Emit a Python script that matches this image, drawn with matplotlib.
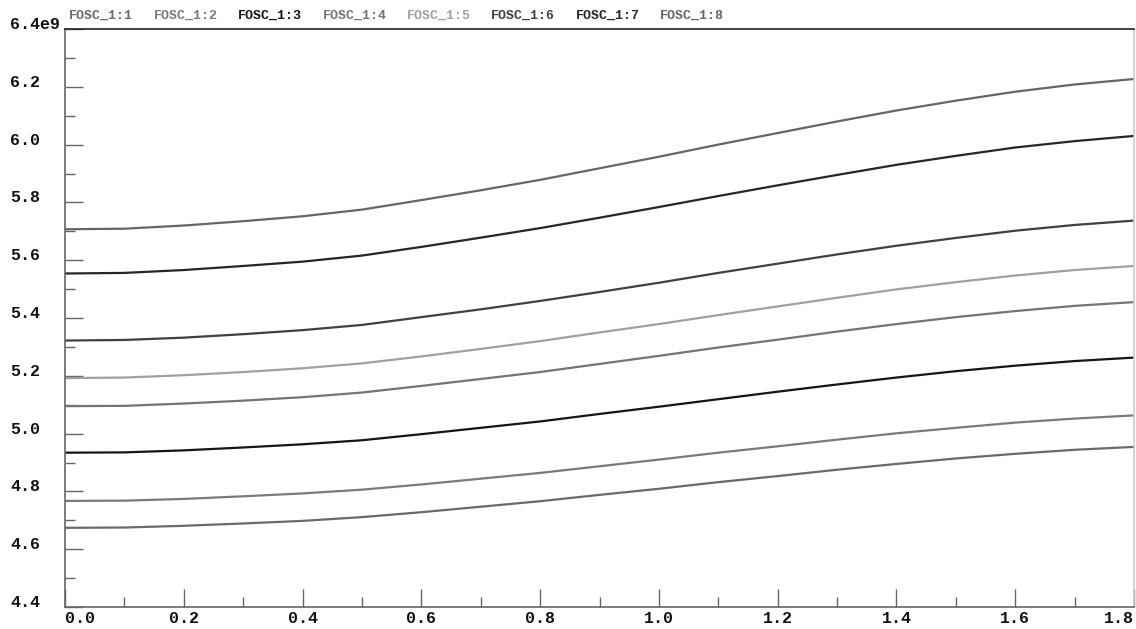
import matplotlib
matplotlib.use("Agg")
import matplotlib.pyplot as plt
from matplotlib.ticker import MultipleLocator, FuncFormatter

# x in steps of 0.1
x = [0.0, 0.1, 0.2, 0.3, 0.4, 0.5, 0.6, 0.7, 0.8, 0.9,
     1.0, 1.1, 1.2, 1.3, 1.4, 1.5, 1.6, 1.7, 1.8]

# values in units of 1e9, series FOSC_1:1 (lowest) .. FOSC_1:8 (highest)
fosc_1 = [4.674, 4.675, 4.681, 4.689, 4.698, 4.711, 4.728, 4.747, 4.766, 4.788,
          4.809, 4.832, 4.853, 4.875, 4.895, 4.914, 4.930, 4.944, 4.954]
fosc_2 = [4.767, 4.768, 4.774, 4.783, 4.793, 4.806, 4.824, 4.844, 4.864, 4.887,
          4.910, 4.934, 4.956, 4.979, 5.001, 5.020, 5.038, 5.052, 5.063]
fosc_3 = [4.934, 4.935, 4.942, 4.952, 4.963, 4.977, 4.998, 5.020, 5.042, 5.068,
          5.093, 5.119, 5.145, 5.170, 5.194, 5.216, 5.235, 5.251, 5.263]
fosc_4 = [5.095, 5.096, 5.104, 5.114, 5.126, 5.142, 5.165, 5.189, 5.213, 5.241,
          5.269, 5.298, 5.325, 5.353, 5.379, 5.403, 5.424, 5.442, 5.455]
fosc_5 = [5.192, 5.194, 5.202, 5.213, 5.226, 5.243, 5.267, 5.293, 5.320, 5.350,
          5.379, 5.410, 5.440, 5.470, 5.499, 5.524, 5.547, 5.566, 5.580]
fosc_6 = [5.322, 5.324, 5.332, 5.344, 5.358, 5.376, 5.403, 5.430, 5.459, 5.490,
          5.522, 5.556, 5.588, 5.620, 5.650, 5.677, 5.702, 5.722, 5.737]
fosc_7 = [5.554, 5.556, 5.566, 5.580, 5.595, 5.616, 5.646, 5.678, 5.711, 5.747,
          5.784, 5.822, 5.859, 5.895, 5.930, 5.961, 5.990, 6.012, 6.030]
fosc_8 = [5.707, 5.709, 5.720, 5.735, 5.752, 5.775, 5.808, 5.842, 5.878, 5.918,
          5.958, 6.000, 6.040, 6.080, 6.118, 6.152, 6.183, 6.208, 6.227]

series = [fosc_1, fosc_2, fosc_3, fosc_4, fosc_5, fosc_6, fosc_7, fosc_8]
names = ["FOSC_1:1", "FOSC_1:2", "FOSC_1:3", "FOSC_1:4",
         "FOSC_1:5", "FOSC_1:6", "FOSC_1:7", "FOSC_1:8"]
colors = ["#6a6a6a", "#7a7a7a", "#151515", "#747474",
          "#a0a0a0", "#404040", "#262626", "#666666"]

xticks = [0.0, 0.2, 0.4, 0.6, 0.8, 1.0, 1.2, 1.4, 1.6, 1.8]
xtick_labels = ["0.0", "0.2", "0.4", "0.6", "0.8", "1.0", "1.2", "1.4", "1.6", "1.8"]

font = "Liberation Mono"

fig = plt.figure(figsize=(11.36, 6.29), dpi=100)
ax = fig.add_axes([65 / 1136, 1 - 607 / 629, (1134 - 65) / 1136, (607 - 29) / 629])

for ys, name, c in zip(series, names, colors):
    ax.plot(x, [v * 1e9 for v in ys], color=c, lw=1.6, label=name)

ax.set_xlim(0, 1.8)
ax.set_ylim(4.4e9, 6.4e9)

ax.set_xticks(xticks)
ax.set_xticklabels(xtick_labels)
ax.xaxis.set_minor_locator(MultipleLocator(0.1))
ax.yaxis.set_major_locator(MultipleLocator(0.2e9))
ax.yaxis.set_minor_locator(MultipleLocator(0.1e9))


def yfmt(v, pos):
    s = "%.1f" % (v / 1e9)
    if abs(v - 6.4e9) < 1e6:
        s += "e9"
    return s


ax.yaxis.set_major_formatter(FuncFormatter(yfmt))

tick_col = "#666666"
ax.tick_params(axis="both", which="major", direction="in", length=13, width=1,
               color=tick_col)
ax.tick_params(axis="both", which="minor", direction="in", length=7, width=1,
               color=tick_col)
ax.tick_params(axis="y", which="major", pad=39.6)
ax.tick_params(axis="x", which="major", pad=3)

for lab in ax.get_yticklabels():
    lab.set_fontfamily(font)
    lab.set_fontweight("bold")
    lab.set_fontsize(12)
    lab.set_horizontalalignment("left")
    lab.set_verticalalignment("baseline")
    lab.set_color("#111111")

xlabs = ax.get_xticklabels()
for lab in xlabs:
    lab.set_fontfamily(font)
    lab.set_fontweight("bold")
    lab.set_fontsize(12)
    lab.set_color("#111111")
xlabs[0].set_horizontalalignment("left")
xlabs[-1].set_horizontalalignment("right")

ax.spines["left"].set_color(tick_col)
ax.spines["bottom"].set_color(tick_col)
ax.spines["top"].set_color("#222222")
ax.spines["right"].set_color("#cccccc")
for s in ax.spines.values():
    s.set_linewidth(1.2)

leg = ax.legend(loc="lower left", bbox_to_anchor=(-0.003, 1.0), ncol=8,
                frameon=False, handlelength=0, handletextpad=0,
                columnspacing=1.55, borderaxespad=0.45, borderpad=0.1,
                labelcolor="linecolor",
                prop={"family": font, "weight": "bold", "size": 9.5})
for h in leg.legend_handles:
    h.set_visible(False)

fig.savefig("out.png", dpi=100)
